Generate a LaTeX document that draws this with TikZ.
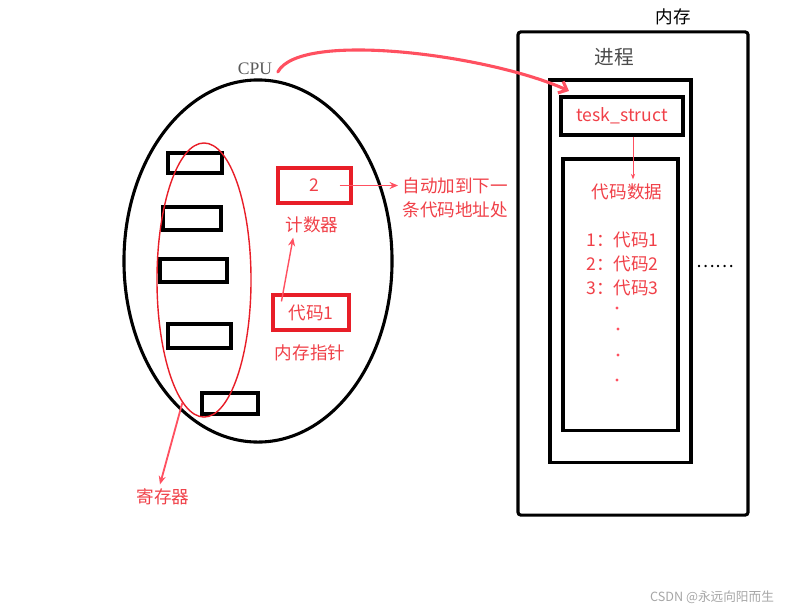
\documentclass[tikz,border=0pt]{standalone}
\usepackage{fontspec}
\setmainfont{Noto Sans CJK SC}
\newfontfamily\cpufont{Liberation Serif}
\usepackage{xcolor}
\usetikzlibrary{positioning,arrows.meta,shapes.geometric,calc}

\definecolor{txtred}{RGB}{240,64,72}
\definecolor{boxred}{RGB}{232,30,40}
\definecolor{arrred}{RGB}{255,80,96}

\begin{document}
\begin{tikzpicture}[
  x=0.025cm, y=-0.025cm,
  font=\fontsize{12.5}{17}\selectfont,
  blk/.style={draw, line width=2.2pt, inner sep=0pt},
  reg/.style={blk},
  redbox/.style={draw=boxred, line width=2.2pt, text=txtred, inner sep=0pt},
  lbl/.style={text=txtred, inner sep=3pt},
  arr/.style={-{Stealth[length=6pt,width=5pt]}, draw=arrred, line width=1pt}
]
  \useasboundingbox (0,0) rectangle (800,614);

  % CPU
  \node[draw, ellipse, line width=2.2pt, minimum width=6.7cm, minimum height=9.05cm] (cpubody) at (258,261) {};
  \node[text=black!65, font=\cpufont\fontsize{12.5}{14}\selectfont, inner sep=1pt] (cpu) at (255,69) {CPU};

  % registers
  \node[reg, minimum width=1.35cm,  minimum height=0.5cm]   (r1) at (195,163) {};
  \node[reg, minimum width=1.45cm,  minimum height=0.575cm] (r2) at (192,218.5) {};
  \node[reg, minimum width=1.675cm, minimum height=0.575cm] (r3) at (193.5,270.5) {};
  \node[reg, minimum width=1.575cm, minimum height=0.6cm]   (r4) at (199.5,336) {};
  \node[reg, minimum width=1.4cm,   minimum height=0.525cm] (r5) at (230,403.5) {};
  \node[draw=boxred, ellipse, line width=1pt, minimum width=2.35cm, minimum height=6.85cm] (regs) at (204,280) {};
  \node[lbl] (reglbl) at (163,497) {寄存器};
  \draw[arr, line width=1.3pt] (regs.260) -- ($(reglbl.north)+(-3,0)$);

  % counter and pointer
  \node[redbox, minimum width=1.825cm, minimum height=0.875cm] (cnt) at (314.5,185.5) {2};
  \node[lbl] (cntlbl) at (312,225) {计数器};
  \node[lbl, anchor=north west, align=left] (auto) at (398,173) {自动加到下一\\条代码地址处};
  \draw[arr] ($(cnt.east)+(-13,0)$) -- (cnt.east -| auto.west);
  \node[redbox, minimum width=1.9cm, minimum height=0.875cm] (ptr) at (311,312.5) {代码1};
  \node[lbl] (ptrlbl) at (310,353) {内存指针};
  \draw[arr] ($(ptr.north west)+(10,8)$) -- ($(cntlbl.south west)+(12,0)$);

  % memory
  \node[blk, rounded corners=2pt, minimum width=5.75cm, minimum height=12.075cm] (mem) at (633,273.5) {};
  \node (memlbl) at (673,17) {内存};
  \node[blk, minimum width=3.525cm, minimum height=9.55cm] (proc) at (620.5,271) {};
  \node[text=black!70, font=\fontsize{14}{16}\selectfont] (proclbl) at (614,57) {进程};
  \node[blk, minimum width=3.05cm, minimum height=0.95cm, text=txtred] (task) at (622,116) {tesk\_struct};
  \node[blk, minimum width=2.875cm, minimum height=6.775cm] (code) at (620.5,294.5) {};
  \node[lbl] (data) at (627,192) {代码数据};
  \draw[arr, -{Stealth[length=4pt,width=3pt]}, line width=0.6pt] ($(task.south)+(11,0)$) -- ($(data.north)+(6,0)$);
  \node[lbl, anchor=west, align=left] (lines) at (582,264) {1：代码1\\2：代码2\\3：代码3};
  \foreach \yy/\xx in {308/617, 329/618, 355/618, 380/617}
    \fill[arrred] (\xx,\yy) circle (1.6);
  \node (more) at (715,266) {……};

  % cpu -> process
  \coordinate (tip) at (569,91);
  \draw[draw=arrred, line width=2.2pt, line cap=round, -{Straight Barb[length=5pt,width=9pt]}]
    ($(cpu.east)+(4,3)$) .. controls (300,30) and (490,55) .. (tip);

  % watermark
  \node[text=black!35, font=\fontsize{9}{10}\selectfont] (wm) at (712,597) {CSDN @永远向阳而生};
\end{tikzpicture}
\end{document}
